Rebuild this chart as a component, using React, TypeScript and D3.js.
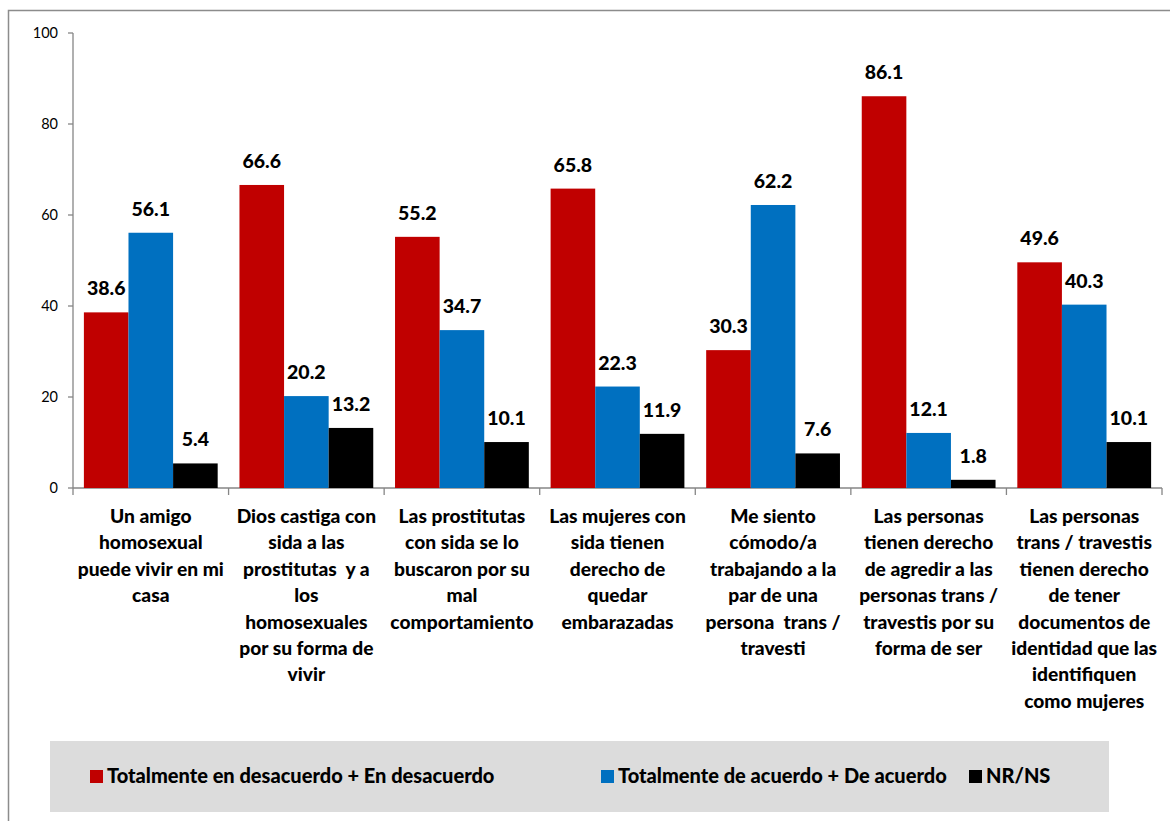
import { FC } from 'react';
import * as d3 from 'd3';

const categories = [
    ['Un amigo', 'homosexual', 'puede vivir en mi', 'casa'],
    ['Dios castiga con', 'sida a las', 'prostitutas  y a', 'los', 'homosexuales', 'por su forma de', 'vivir'],
    ['Las prostitutas', 'con sida se lo', 'buscaron por su', 'mal', 'comportamiento'],
    ['Las mujeres con', 'sida tienen', 'derecho de', 'quedar', 'embarazadas'],
    ['Me siento', 'cómodo/a', 'trabajando a la', 'par de una', 'persona  trans /', 'travesti'],
    ['Las personas', 'tienen derecho', 'de agredir a las', 'personas trans /', 'travestis por su', 'forma de ser'],
    ['Las personas', 'trans / travestis', 'tienen derecho', 'de tener', 'documentos de', 'identidad que las', 'identifiquen', 'como mujeres'],
];

const seriesNames = [
    'Totalmente en desacuerdo + En desacuerdo',
    'Totalmente de acuerdo + De acuerdo',
    'NR/NS',
];
const seriesColors = ['#C00000', '#0070C0', '#000000'];

const desacuerdo = [38.6, 66.6, 55.2, 65.8, 30.3, 86.1, 49.6];
const acuerdo = [56.1, 20.2, 34.7, 22.3, 62.2, 12.1, 40.3];
const nrns = [5.4, 13.2, 10.1, 11.9, 7.6, 1.8, 10.1];

const yTicks = [0, 20, 40, 60, 80, 100];

const W = 1170;
const H = 821;
const FONT = 'Lato, "Open Sans", sans-serif';

const App: FC = () => {
    const series = [desacuerdo, acuerdo, nrns];
    const left = 73, right = 1162, top = 33, bottom = 488;

    const x = d3.scaleBand<number>()
        .domain(categories.map((_, i) => i))
        .range([left, right])
        .paddingInner(0);
    const bw = x.bandwidth();
    const xi = d3.scaleBand<number>()
        .domain([0, 1, 2])
        .range([bw * 0.07, bw * 0.93])
        .padding(0);
    const y = d3.scaleLinear().domain([0, 100]).range([bottom, top]);

    const axisColor = '#868686';

    // legend layout
    const legendItems = [
        { x: 90, name: seriesNames[0], color: seriesColors[0] },
        { x: 601, name: seriesNames[1], color: seriesColors[1] },
        { x: 969, name: seriesNames[2], color: seriesColors[2] },
    ];

    return (
        <div style={{ position: 'absolute', left: 0, top: 0 }}>
            <svg width={W} height={H} style={{ display: 'block', background: '#fff' }}>
                {/* outer frame */}
                <path d={`M8.5,${H + 5} V10.5 H${W + 5}`} fill="none" stroke="#8c8c8c" strokeWidth={1.5} />

                {/* y axis */}
                <line x1={left} x2={left} y1={top} y2={bottom} stroke={axisColor} strokeWidth={1.3} />
                {yTicks.map(t => (
                    <g key={t}>
                        <line x1={left - 5} x2={left} y1={y(t)} y2={y(t)} stroke={axisColor} strokeWidth={1.3} />
                        <text x={58} y={y(t)} dy="0.35em" textAnchor="end" fontFamily={FONT}
                              fontSize={14.5} fill="#000">{t}</text>
                    </g>
                ))}

                {/* x axis */}
                <line x1={left} x2={right} y1={bottom} y2={bottom} stroke={axisColor} strokeWidth={1.3} />
                {d3.range(categories.length + 1).map(i => {
                    const tx = i < categories.length ? x(i)! : right;
                    return <line key={i} x1={tx} x2={tx} y1={bottom} y2={bottom + 7} stroke={axisColor} strokeWidth={1.3} />;
                })}

                {/* bars */}
                {series.map((vals, s) => (
                    <g key={s}>
                        {vals.map((v, i) => {
                            const bx = x(i)! + xi(s)!;
                            return (
                                <g key={i}>
                                    <rect x={bx} y={y(v)} width={xi.bandwidth()} height={bottom - y(v)}
                                          fill={seriesColors[s]} />
                                    <text x={bx + xi.bandwidth() / 2} y={y(v) - 17} textAnchor="middle"
                                          fontFamily={FONT} fontWeight="900" fontSize={19.5} fill="#000">
                                        {v.toFixed(1)}
                                    </text>
                                </g>
                            );
                        })}
                    </g>
                ))}

                {/* category labels */}
                {categories.map((lines, i) => (
                    <text key={i} x={x(i)! + bw / 2} y={523} textAnchor="middle" fontFamily={FONT}
                          fontWeight="900" fontSize={19.2} fill="#000" style={{ whiteSpace: 'pre' }}>
                        {lines.map((ln, k) => (
                            <tspan key={k} x={x(i)! + bw / 2} dy={k === 0 ? 0 : 26.4}>{ln}</tspan>
                        ))}
                    </text>
                ))}

                {/* legend */}
                <rect x={50} y={741} width={1059} height={71} fill="#DCDCDC" />
                {legendItems.map(it => (
                    <g key={it.name}>
                        <rect x={it.x} y={770} width={13} height={13} fill={it.color} />
                        <text x={it.x + 17} y={783} fontFamily={FONT} fontWeight="900" fontSize={20}
                              fill="#000">{it.name}</text>
                    </g>
                ))}
            </svg>
        </div>
    );
};

export default App;
